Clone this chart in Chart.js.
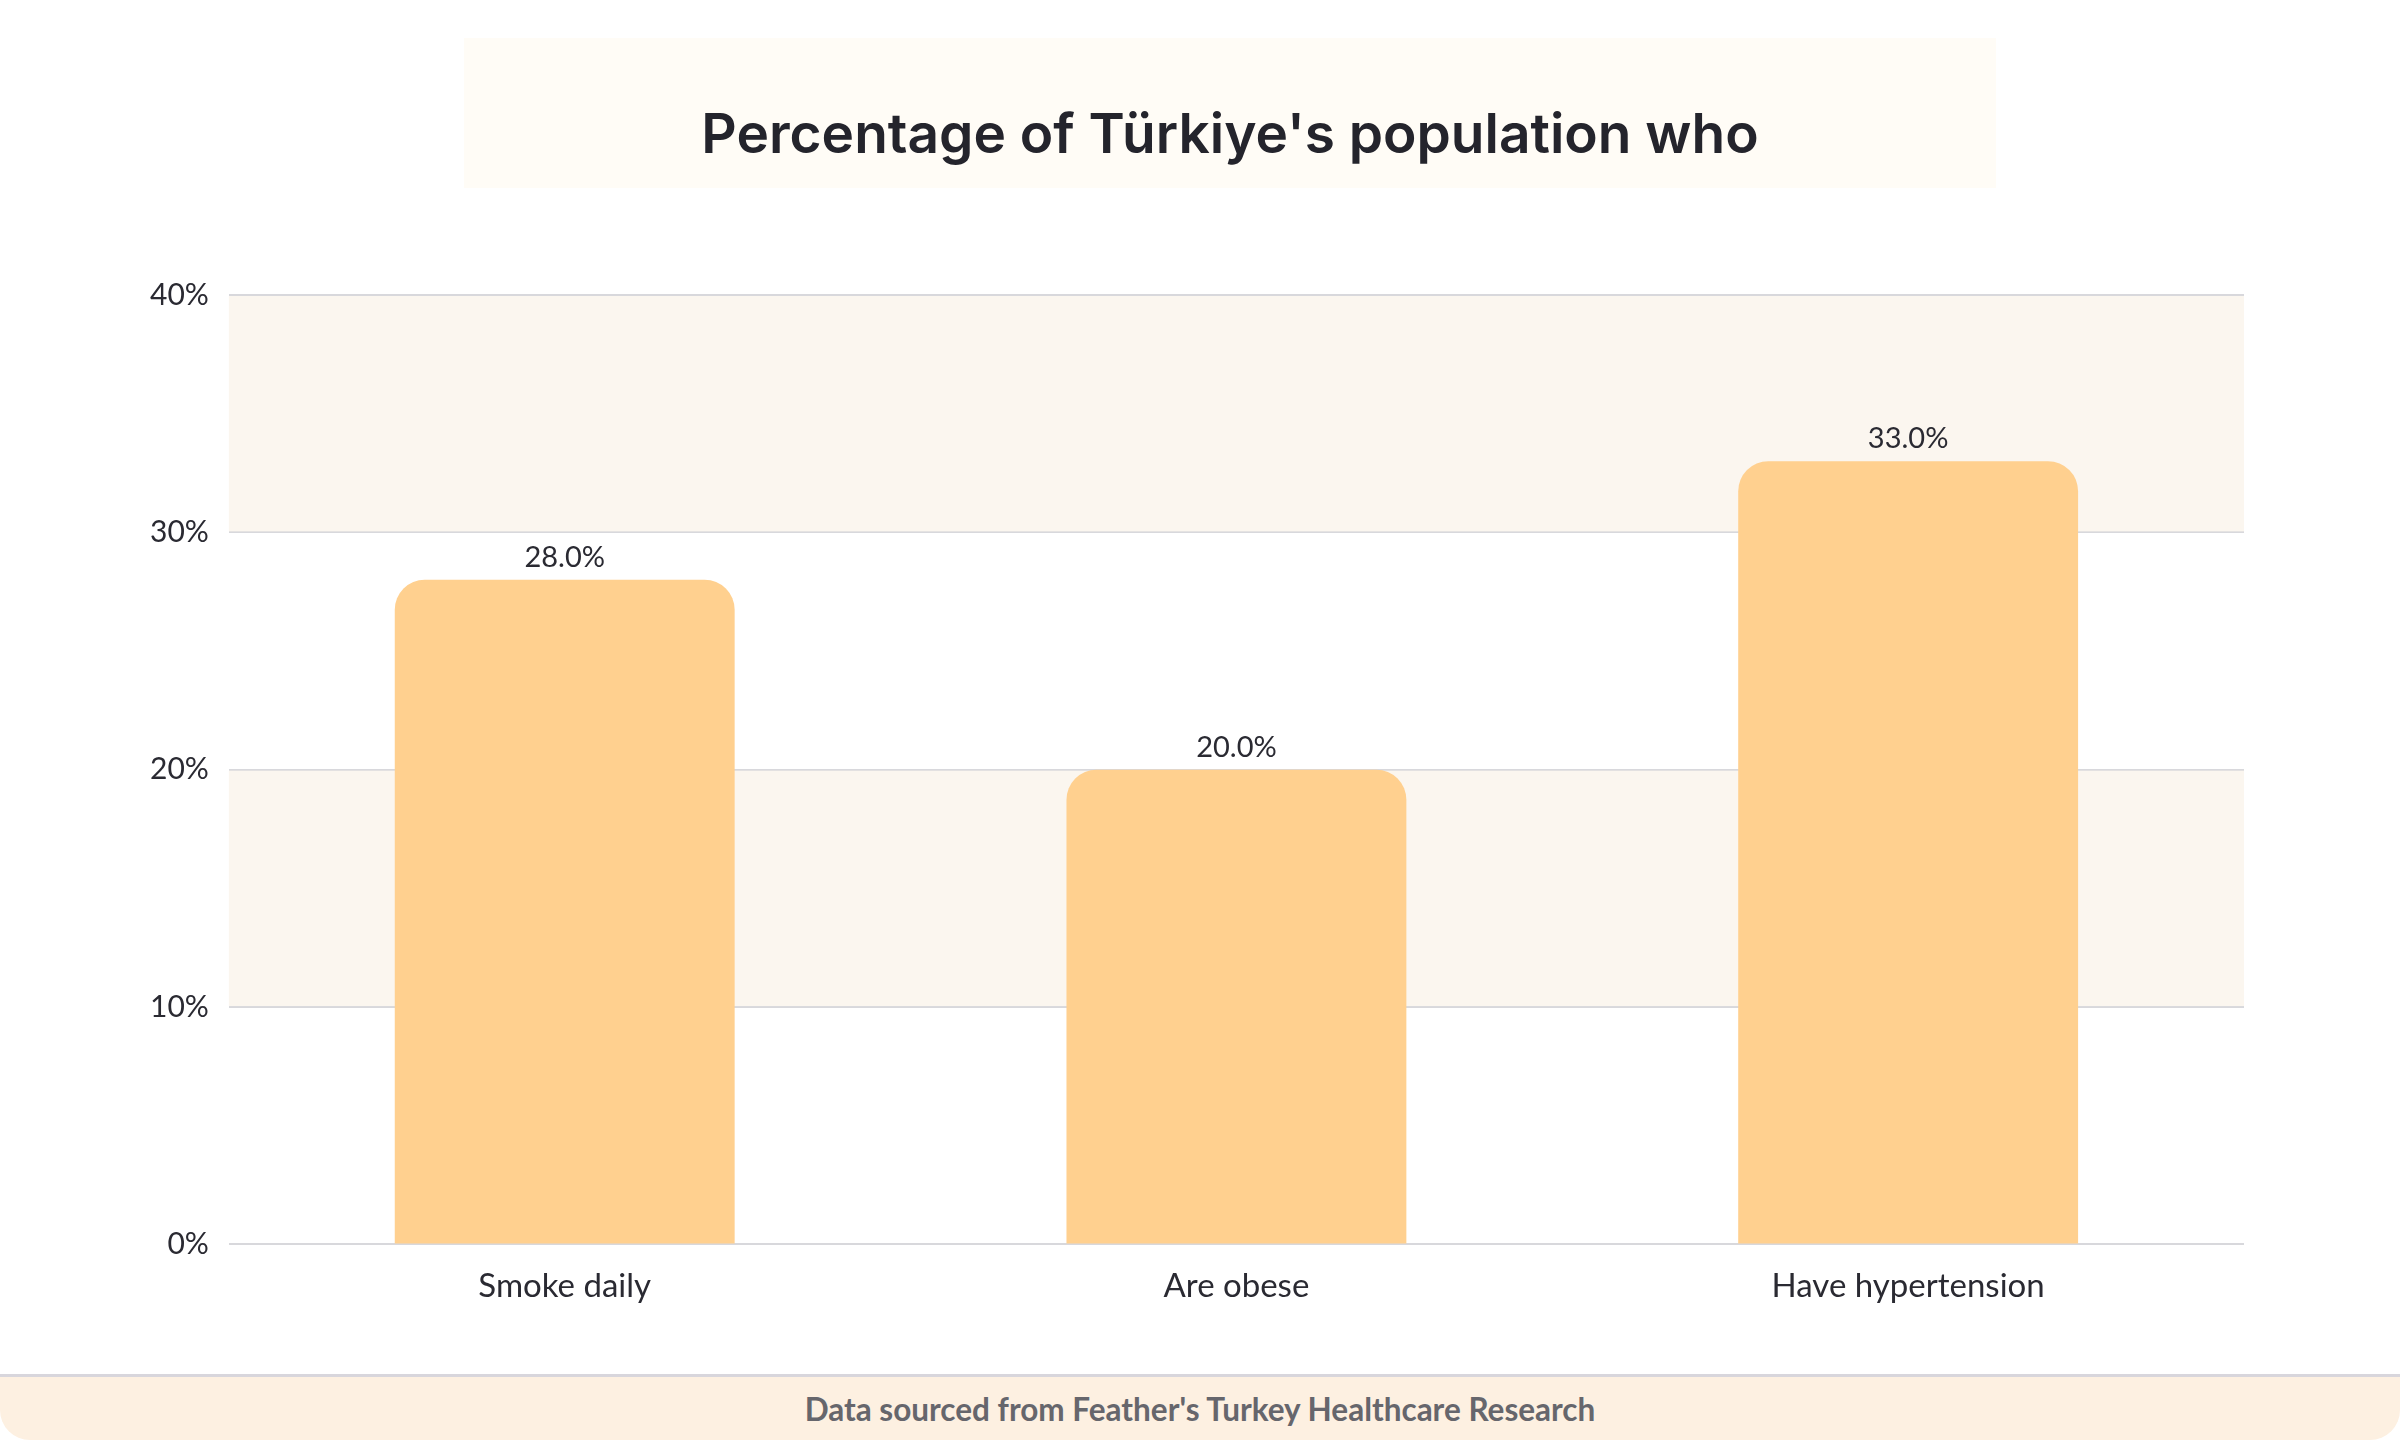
<!DOCTYPE html>
<html>
<head>
<meta charset="utf-8">
<script src="https://cdn.jsdelivr.net/npm/chart.js@4"></script>
<style>
  body { margin: 0; width: 2400px; height: 1440px; background: #fff; position: relative; overflow: hidden; font-family: Lato, sans-serif; }
  #titlebox { position: absolute; left: 464px; top: 38px; width: 1532px; height: 150px; background: #fffcf6;
    display: flex; align-items: center; justify-content: center; padding-top: 40px; box-sizing: border-box;
    font-family: Inter, sans-serif; font-weight: 600; font-size: 55px; color: #24242c; }
  #wrap { position: absolute; left: 0; top: 190px; width: 2400px; height: 1185px; }
  #footer { position: absolute; left: 0; top: 1374px; width: 2400px; height: 66px; background: #fdf0e1; border-top: 3px solid #d8d6dc;
    border-radius: 0 0 30px 30px; display: flex; align-items: center; justify-content: center; font-weight: 700; font-size: 31.5px; color: #66666c; box-sizing: border-box; }
</style>
</head>
<body>
<div id="titlebox">Percentage of Türkiye's population who</div>
<div id="wrap"><canvas id="chart" width="2400" height="1185"></canvas></div>
<div id="footer">Data sourced from Feather's Turkey Healthcare Research</div>
<script>
const categories = ['Smoke daily', 'Are obese', 'Have hypertension'];
const values = [28, 20, 33];
const yTicks = [0, 10, 20, 30, 40];
const bandRanges = [[10, 20], [30, 40]];

const bands = {
    id: 'bands',
    beforeDatasetsDraw(chart) {
        const ctx = chart.ctx;
        const y = chart.scales.y;
        const area = chart.chartArea;
        ctx.save();
        ctx.fillStyle = '#fbf6ef';
        bandRanges.forEach(r => {
            const top = y.getPixelForValue(r[1]);
            const bot = y.getPixelForValue(r[0]);
            ctx.fillRect(area.left, top + 1, area.right - area.left, bot - top - 2);
        });
        ctx.restore();
    }
};

const labels = {
    id: 'labels',
    afterDatasetsDraw(chart) {
        const ctx = chart.ctx;
        ctx.save();
        ctx.font = '29px Lato';
        ctx.fillStyle = '#2a2a32';
        ctx.textAlign = 'center';
        ctx.textBaseline = 'bottom';
        chart.getDatasetMeta(0).data.forEach((bar, i) => {
            ctx.fillText(values[i].toFixed(1) + '%', bar.x, bar.y - 8);
        });
        ctx.restore();
    }
};

new Chart(document.getElementById('chart'), {
    type: 'bar',
    data: {
        labels: categories,
        datasets: [{
            data: values,
            backgroundColor: '#ffd08f',
            borderRadius: { topLeft: 30, topRight: 30 },
            borderSkipped: 'bottom',
            categoryPercentage: 1,
            barPercentage: 0.506
        }]
    },
    options: {
        responsive: false,
        animation: false,
        devicePixelRatio: 1,
        layout: { padding: { left: 130, right: 156, top: 105, bottom: 55 } },
        plugins: { legend: { display: false }, tooltip: { enabled: false } },
        scales: {
            x: {
                grid: { display: false },
                border: { display: false },
                ticks: { color: '#2a2a32', font: { family: 'Lato', size: 33 }, padding: 14 }
            },
            y: {
                min: 0, max: 40,
                afterBuildTicks(s) { s.ticks = yTicks.map(v => ({ value: v })); },
                grid: { color: '#d8d8dc', lineWidth: 2, drawTicks: false },
                border: { display: false },
                ticks: { color: '#2a2a32', font: { family: 'Lato', size: 30 }, padding: 20, callback: v => v + '%' }
            }
        }
    },
    plugins: [bands, labels]
});
</script>
</body>
</html>
